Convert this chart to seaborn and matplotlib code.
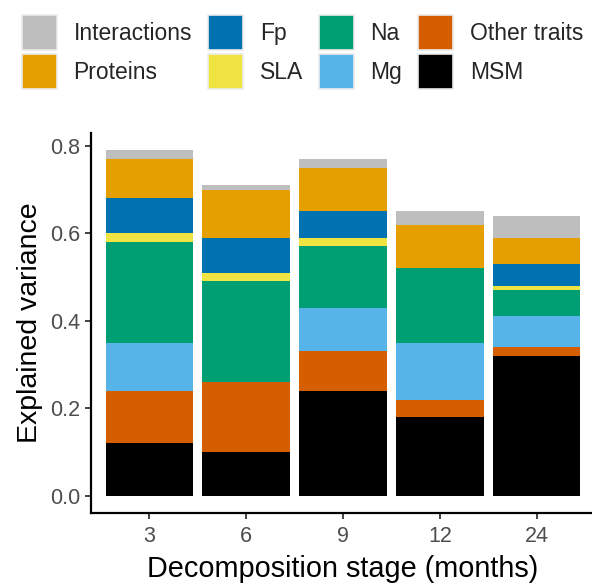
import matplotlib
matplotlib.use("Agg")
import matplotlib.pyplot as plt
from matplotlib.patches import Patch
import numpy as np
import pandas as pd
import seaborn as sns

# Decomposition stages (months)
stages = ["3", "6", "9", "12", "24"]

# Explained variance per trait group, stacked from bottom to top
msm = [0.12, 0.10, 0.24, 0.18, 0.32]
other_traits = [0.12, 0.16, 0.09, 0.04, 0.02]
mg = [0.11, 0.00, 0.10, 0.13, 0.07]
na = [0.23, 0.23, 0.14, 0.17, 0.06]
sla = [0.02, 0.02, 0.02, 0.00, 0.01]
fp = [0.08, 0.08, 0.06, 0.00, 0.05]
proteins = [0.09, 0.11, 0.10, 0.10, 0.06]
interactions = [0.02, 0.01, 0.02, 0.03, 0.05]

components = ["MSM", "Other traits", "Mg", "Na", "SLA", "Fp", "Proteins", "Interactions"]
values = [msm, other_traits, mg, na, sla, fp, proteins, interactions]
colors = {
    "Interactions": "#BEBEBE",
    "Proteins": "#E69F00",
    "Fp": "#0072B2",
    "SLA": "#F0E442",
    "Na": "#009E73",
    "Mg": "#56B4E9",
    "Other traits": "#D55E00",
    "MSM": "#000000",
}
legend_order = ["Interactions", "Proteins", "Fp", "SLA", "Na", "Mg", "Other traits", "MSM"]

df = pd.DataFrame(
    [(s, c, v) for c, vals in zip(components, values) for s, v in zip(stages, vals)],
    columns=["stage", "component", "variance"],
)

sns.set_theme(style="white")
plt.rcParams["font.family"] = ["Liberation Sans", "DejaVu Sans"]

fig = plt.figure(figsize=(5.92, 5.86), dpi=100)
ax = fig.add_axes([91 / 592, 73 / 586, 504 / 592, 380 / 586])

bottom = np.zeros(len(stages))
for comp in components:
    sub = df[df["component"] == comp].set_index("stage").loc[stages].reset_index()
    sns.barplot(
        data=sub, x="stage", y="variance", order=stages,
        color=colors[comp], bottom=bottom, width=0.9,
        saturation=1, linewidth=0, errorbar=None, ax=ax,
    )
    bottom = bottom + sub["variance"].to_numpy()

ax.set_xlim(-0.6, 4.6)
ax.set_ylim(-0.0395, 0.8295)
ax.set_yticks([0.0, 0.2, 0.4, 0.6, 0.8])
ax.set_yticklabels(["0.0", "0.2", "0.4", "0.6", "0.8"])

for side in ["top", "right"]:
    ax.spines[side].set_visible(False)
for side in ["left", "bottom"]:
    ax.spines[side].set_color("black")
    ax.spines[side].set_linewidth(1.6)

ax.tick_params(axis="both", which="major", length=4.3, width=1.3, color="#333333",
               labelsize=15.5, labelcolor="#4D4D4D", left=True, bottom=True)
ax.tick_params(axis="y", pad=3.5)
ax.tick_params(axis="x", pad=5)

ax.set_xlabel("Decomposition stage (months)", fontsize=20.8, color="black", labelpad=6)
ax.set_ylabel("Explained variance", fontsize=20.5, color="black", labelpad=5)

handles = [Patch(facecolor=colors[c], edgecolor="#EBEBEB", linewidth=1.2, label=c)
           for c in legend_order]
fig.legend(
    handles=handles, ncol=4, loc="upper left",
    bbox_to_anchor=(22 / 592, 1 - 15 / 586), bbox_transform=fig.transFigure,
    frameon=False, fontsize=16.5, handlelength=1.53, handleheight=2.0,
    handletextpad=0.72, columnspacing=0.7, labelspacing=0.14,
    borderpad=0, borderaxespad=0,
)

fig.savefig("out.png", dpi=100)
